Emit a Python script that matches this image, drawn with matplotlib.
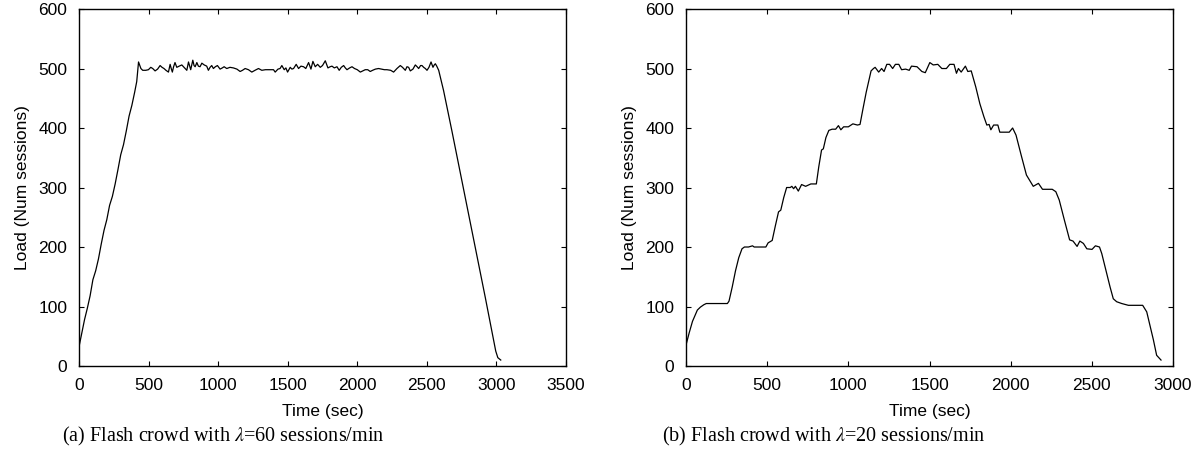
import matplotlib
matplotlib.use("Agg")
import matplotlib.pyplot as plt

# (a) lambda = 60 sessions/min
left_time = [0, 20, 40, 60, 80, 100, 120, 140, 160, 180, 200, 220, 240, 260, 280,
             300, 320, 340, 360, 380, 400, 415, 428,
             445, 458, 480, 499, 516, 530, 547, 565, 583, 597, 611, 625, 643, 655,
             663, 671, 680, 690, 703, 720, 739, 755, 775, 787, 803, 818, 827, 835,
             847, 858, 870, 883, 900, 918, 930, 942, 954, 966, 980, 995, 1014, 1030,
             1043, 1062, 1085, 1110, 1135, 1158, 1175, 1194, 1218, 1242, 1265, 1290,
             1314, 1340, 1370, 1398, 1410, 1430, 1445, 1458, 1475, 1487, 1499, 1518,
             1530, 1542, 1561, 1578, 1595, 1614, 1630, 1650, 1667, 1681, 1698, 1715,
             1734, 1750, 1770, 1789, 1805, 1818, 1835, 1854, 1870, 1885, 1902, 1914,
             1926, 1945, 1962, 1980, 2000, 2022, 2040, 2057, 2075, 2093, 2110, 2130,
             2153, 2175, 2195, 2213, 2240, 2261, 2285, 2309, 2325, 2345, 2357, 2369,
             2381, 2400, 2417, 2430, 2441, 2455, 2465, 2477, 2489, 2501, 2515, 2530,
             2544, 2553, 2561, 2571,
             2585, 2620, 2680, 2740, 2800, 2860, 2920, 2970, 2995, 3010, 3031]
left_load = [32, 55, 78, 97, 118, 145, 160, 180, 205, 228, 246, 270, 285, 306, 330,
             355, 372, 395, 420, 438, 460, 478, 511,
             500, 497, 497, 498, 502, 500, 496, 499, 505, 502, 500, 497, 494, 507,
             500, 494, 503, 510, 502, 504, 506, 502, 497, 511, 498, 514, 505, 503,
             510, 504, 503, 509, 506, 504, 497, 502, 505, 500, 503, 505, 499, 501,
             503, 500, 502, 501, 499, 495, 497, 500, 498, 494, 497, 500,
             497, 498, 498, 498, 494, 499, 500, 505, 498, 501, 494, 502,
             499, 500, 507, 500, 504, 503, 500, 510, 499, 512, 503, 507,
             502, 505, 513, 501, 503, 504, 501, 503, 497, 502, 505, 501,
             498, 501, 503, 500, 498, 494, 496, 498, 498, 495, 497, 499,
             500, 499, 498, 498, 497, 494, 500, 505, 502, 497, 503, 502,
             496, 499, 506, 503, 500, 505, 505, 502, 500, 497, 502, 511,
             502, 506, 508, 504,
             497, 463, 395, 325, 255, 185, 115, 55, 25, 14, 10]

# (b) lambda = 20 sessions/min
right_time = [0, 20, 40, 70, 89, 110, 125, 180, 255, 265, 285, 305, 325, 345, 360,
              385, 410, 420, 450, 492, 506, 531, 550, 570, 584, 602, 620, 642, 652,
              663, 674, 692, 712, 737, 769, 803, 818, 835, 846, 862, 880, 900, 922,
              939, 954, 971, 1000, 1028, 1056, 1072, 1090, 1110, 1140, 1155, 1165,
              1187, 1205, 1220, 1237, 1254, 1273, 1290, 1311, 1328, 1353, 1375, 1389,
              1423, 1453, 1474, 1502, 1523, 1551, 1576, 1604, 1625, 1651, 1666, 1678,
              1695, 1721, 1736, 1757, 1785, 1810, 1835, 1853, 1867, 1878, 1895, 1921,
              1933, 1991, 2012, 2033, 2065, 2097, 2139, 2171, 2196, 2256, 2278, 2299,
              2331, 2363, 2384, 2409, 2426, 2448, 2469, 2501, 2522, 2547, 2561, 2592,
              2612, 2632, 2653, 2684, 2725, 2780, 2813, 2838, 2879, 2899, 2926]
right_load = [35, 56, 75, 94, 99, 103, 105, 105, 105, 109, 133, 160, 182, 197, 200,
              200, 202, 200, 200, 200, 207, 211, 235, 259, 262, 283, 300, 300, 302,
              298, 302, 294, 305, 302, 306, 306, 335, 363, 365, 384, 396, 398, 398,
              404, 397, 402, 402, 407, 405, 406, 432, 460, 496, 500, 502,
              494, 500, 495, 507, 507, 500, 507, 507, 498, 499, 497, 504,
              503, 495, 493, 510, 506, 507, 500, 500, 507, 507, 492, 500,
              494, 504, 495, 496, 469, 441, 419, 405, 406, 397, 405, 405,
              393, 393, 400, 388, 354, 321, 302, 307, 297, 297, 293, 279,
              245, 212, 210, 201, 210, 206, 197, 196, 202, 200, 189, 155,
              133, 113, 108, 105, 102, 102, 102, 91, 44, 18, 10]

left_xticks = [0, 500, 1000, 1500, 2000, 2500, 3000, 3500]
right_xticks = [0, 500, 1000, 1500, 2000, 2500, 3000]
yticks = [0, 100, 200, 300, 400, 500, 600]
captions = [r"(a) Flash crowd with $\lambda$=60 sessions/min",
            r"(b) Flash crowd with $\lambda$=20 sessions/min"]

plt.rcParams["font.family"] = ["Liberation Sans", "DejaVu Sans"]
plt.rcParams["mathtext.fontset"] = "stix"

fig = plt.figure(figsize=(12.02, 4.65), dpi=100)
ax1 = fig.add_axes([0.0657, 0.2129, 0.4052, 0.7677])
ax2 = fig.add_axes([0.5707, 0.2129, 0.4052, 0.7677])

panels = [(ax1, left_time, left_load, left_xticks),
          (ax2, right_time, right_load, right_xticks)]

for ax, t, load, xt in panels:
    ax.plot(t, load, color="black", lw=0.9)
    ax.set_xlim(xt[0], xt[-1])
    ax.set_ylim(0, 600)
    ax.set_xticks(xt)
    ax.set_yticks(yticks)
    ax.tick_params(direction="in", top=True, right=True, length=3.6, width=0.8,
                   labelsize=12.5, pad=8.5)
    for s in ax.spines.values():
        s.set_linewidth(1.0)
    ax.set_xlabel("Time (sec)", fontsize=12.5)
    ax.xaxis.set_label_coords(0.5, -0.140)
    ax.xaxis.label.set_verticalalignment("baseline")
    ax.set_ylabel("Load (Num sessions)", fontsize=12.5)
    ax.yaxis.set_label_coords(-0.115, 0.5)
    ax.yaxis.label.set_verticalalignment("center")

# subfigure captions, serif like the paper text
fig.text(0.0513, 0.0495, captions[0], family="Liberation Serif", fontsize=14.5,
         ha="left", va="baseline")
fig.text(0.5505, 0.0495, captions[1], family="Liberation Serif", fontsize=14.5,
         ha="left", va="baseline")

fig.savefig("out.png", dpi=100)
plt.close(fig)
